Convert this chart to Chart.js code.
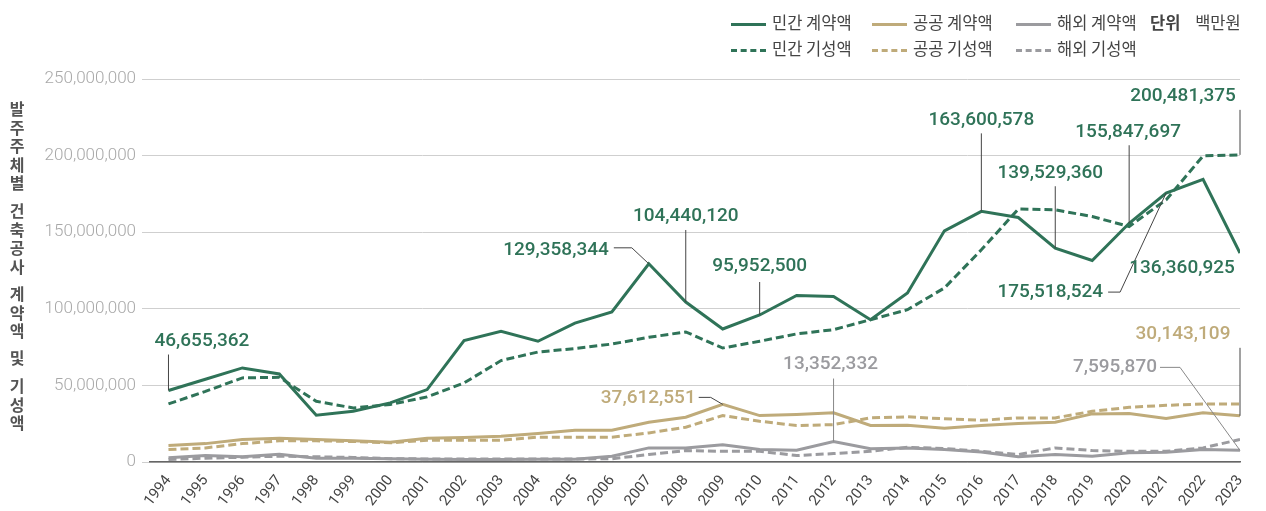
<!DOCTYPE html>
<html>
<head>
<meta charset="utf-8">
<script src="https://cdn.jsdelivr.net/npm/chart.js@4"></script>
<style>
  body { margin: 0; background: #fff; }
  #wrap { position: relative; width: 1266px; height: 511px; }
  #ytitle { position: absolute; left: 9px; top: 101px; }
  #ytitle div {
    writing-mode: vertical-rl; text-orientation: upright;
    font: bold 16px "Noto Sans CJK KR"; color: #555; letter-spacing: 2.5px;
    line-height: 16px; margin-bottom: 9px;
  }
  .lg { position: absolute; font: 16.5px "Noto Sans CJK KR"; color: #444; white-space: nowrap; line-height: 20px; }
  .sw { display: inline-block; width: 35px; height: 0; border-top: 3px solid; vertical-align: middle; margin-right: 6px; }
  .sw.d { border-top-style: dashed; }
</style>
</head>
<body>
<div id="wrap">
  <canvas id="grafico" width="1266" height="511"></canvas>
  <div id="ytitle"><div>발주주체별</div><div>건축공사</div><div>계약액</div><div>및</div><div>기성액</div></div>
  <div id="legend"></div>
</div>
<script>
const anios = [1994,1995,1996,1997,1998,1999,2000,2001,2002,2003,2004,2005,2006,2007,2008,2009,2010,2011,2012,2013,2014,2015,2016,2017,2018,2019,2020,2021,2022,2023];

// 단위: 백만원
const minganGyeyak = [46655362,54000000,61400000,57500000,30500000,33100000,38600000,47300000,79200000,85300000,78800000,90700000,97900000,129358344,104440120,86800000,95952500,108700000,108100000,92900000,110300000,150900000,163600578,159600000,139529360,131500000,155847697,175518524,184500000,136360925];
const minganGiseong = [37900000,46100000,54900000,55300000,39600000,35300000,37500000,42500000,51600000,66200000,71800000,74000000,77000000,81400000,84900000,74400000,78800000,83600000,86400000,92900000,99400000,113600000,138500000,165100000,164600000,160200000,153700000,171100000,199800000,200481375];
const gonggongGyeyak = [10800000,12000000,14700000,15500000,14700000,13800000,12900000,15500000,16000000,16800000,18600000,20700000,20700000,26000000,29200000,37612551,30300000,31000000,32100000,23800000,24000000,22000000,23800000,25100000,26000000,31400000,31600000,28400000,32100000,30143109];
const gonggongGiseong = [8100000,9200000,12000000,13800000,13800000,13400000,12500000,14200000,14200000,14200000,16200000,16200000,16200000,19000000,22700000,30300000,26600000,23800000,24400000,28800000,29500000,28200000,27200000,28800000,28800000,33100000,35700000,37000000,37900000,37900000];
const haeoeGyeyak = [2700000,4200000,3400000,5100000,2500000,2500000,2100000,1800000,1700000,1700000,1800000,1800000,3800000,9200000,9200000,11200000,8100000,7700000,13352332,8600000,9200000,8100000,6600000,3400000,4900000,3800000,6000000,6400000,8100000,7595870];
const haeoeGiseong = [1600000,2500000,3100000,3800000,3400000,3000000,2200000,2000000,2000000,2000000,2000000,2000000,2100000,4900000,7500000,7000000,7000000,4200000,5500000,7000000,9600000,8800000,7000000,4900000,9200000,7500000,7000000,7000000,9200000,14700000];

const yTicks = [0,50000000,100000000,150000000,200000000,250000000];

const VERDE = '#2f7358', ORO = '#bfab7a', GRIS = '#9b9b9f';

const series = [
  { label: '민간 계약액', data: minganGyeyak, color: VERDE, dash: [] },
  { label: '민간 기성액', data: minganGiseong, color: VERDE, dash: [8,4] },
  { label: '공공 계약액', data: gonggongGyeyak, color: ORO, dash: [] },
  { label: '공공 기성액', data: gonggongGiseong, color: ORO, dash: [8,4] },
  { label: '해외 계약액', data: haeoeGyeyak, color: GRIS, dash: [] },
  { label: '해외 기성액', data: haeoeGiseong, color: GRIS, dash: [8,4] }
];

// etiquetas: serie, indice del año, desplazamiento del texto y linea guia (relativos al punto)
const etiquetas = [
  { ds: 0, i: 0,  tx: -14, ty: -49, align: 'left',   guia: [[0,-36],[0,0]] },
  { ds: 0, i: 13, tx: -40, ty: -14, align: 'right',  guia: [[-35,-16],[-17,-16],[0,0]] },
  { ds: 0, i: 14, tx: 0,   ty: -86, align: 'center', guia: [[0,-72],[0,0]] },
  { ds: 0, i: 16, tx: 0,   ty: -49, align: 'center', guia: [[0,-33],[0,0]] },
  { ds: 0, i: 22, tx: 0,   ty: -91, align: 'center', guia: [[0,-78],[0,0]] },
  { ds: 0, i: 24, tx: -5,  ty: -75, align: 'center', guia: [[0,-62],[0,0]] },
  { ds: 0, i: 26, tx: -1,  ty: -91, align: 'center', guia: [[0,-78],[0,0]] },
  { ds: 1, i: 29, tx: -57, ty: -59, align: 'center', guia: [[0,-45],[0,0]] },
  { ds: 0, i: 27, tx: -63, ty: 99,  align: 'right',  guia: [[-58,99],[-46,99],[0,0]] },
  { ds: 0, i: 29, tx: -58, ty: 15,  align: 'center', guia: null },
  { ds: 2, i: 15, tx: -27, ty: -6,  align: 'right',  guia: [[-24,-7],[-12,-7],[0,0]] },
  { ds: 4, i: 18, tx: -3,  ty: -77, align: 'center', guia: [[0,-63],[0,0]] },
  { ds: 2, i: 29, tx: -57, ty: -82, align: 'center', guia: [[0,-68],[0,0]] },
  { ds: 4, i: 29, tx: -83, ty: -83, align: 'right',  guia: [[-80,-83],[-60,-83],[0,0]] }
];

const pluginEtiquetas = {
  id: 'etiquetas',
  afterDatasetsDraw(chart) {
    const ctx = chart.ctx;
    const xs = chart.scales.x, ys = chart.scales.y;
    ctx.save();
    etiquetas.forEach(e => {
      const s = series[e.ds];
      const px = xs.getPixelForValue(anios[e.i]);
      const py = ys.getPixelForValue(s.data[e.i]);
      if (e.guia) {
        ctx.beginPath();
        ctx.strokeStyle = e.ds >= 4 ? '#888' : '#444';
        ctx.lineWidth = 1;
        e.guia.forEach((p, k) => {
          if (k == 0) ctx.moveTo(px + p[0], py + p[1]);
          else ctx.lineTo(px + p[0], py + p[1]);
        });
        ctx.stroke();
      }
      ctx.font = '500 19px Roboto';
      ctx.fillStyle = s.color;
      ctx.textAlign = e.align;
      ctx.textBaseline = 'middle';
      ctx.fillText(s.data[e.i].toLocaleString('en-US'), px + e.tx, py + e.ty);
    });
    ctx.restore();
  }
};

// leyenda
const legend = document.getElementById('legend');
const cols = [731, 872, 1016];
series.forEach((s, k) => {
  const d = document.createElement('div');
  d.className = 'lg';
  d.style.left = cols[Math.floor(k / 2)] + 'px';
  d.style.top = (k % 2 == 0 ? 12 : 38) + 'px';
  d.innerHTML = '<span class="sw' + (s.dash.length ? ' d' : '') + '" style="border-color:' + s.color + '"></span>' + s.label;
  legend.appendChild(d);
});
const unidad = document.createElement('div');
unidad.className = 'lg';
unidad.style.left = '1150px';
unidad.style.top = '12px';
unidad.innerHTML = '<b>단위</b>&nbsp;&nbsp;&nbsp;&nbsp;백만원';
legend.appendChild(unidad);

const ctx = document.getElementById('grafico').getContext('2d');
const grafico = new Chart(ctx, {
  type: 'line',
  data: {
    datasets: series.map(s => ({
      label: s.label,
      data: s.data.map((v, k) => ({ x: anios[k], y: v })),
      borderColor: s.color,
      borderDash: s.dash,
      borderWidth: 3,
      pointRadius: 0,
      tension: 0,
      fill: false
    }))
  },
  options: {
    responsive: false,
    animation: false,
    layout: { padding: { top: 79, right: 26, left: 0, bottom: 0 } },
    plugins: { legend: { display: false }, tooltip: { enabled: false } },
    scales: {
      x: {
        type: 'linear',
        min: 1993.5,
        max: 2023,
        afterBuildTicks: sc => { sc.ticks = anios.map(v => ({ value: v })); },
        afterFit: sc => { sc.height = 49; },
        grid: { display: false },
        border: { color: '#666', width: 1.5 },
        ticks: {
          autoSkip: false,
          minRotation: 52,
          maxRotation: 52,
          padding: 2,
          color: '#444',
          font: { family: 'Roboto', size: 15 },
          callback: v => String(v)
        }
      },
      y: {
        min: 0,
        max: 250000000,
        afterBuildTicks: sc => { sc.ticks = yTicks.map(v => ({ value: v })); },
        afterFit: sc => { sc.width = 150; },
        border: { display: false },
        grid: { color: '#cfcfcf', lineWidth: 1, tickLength: 8 },
        ticks: {
          padding: 6,
          color: '#a8a8a8',
          font: { family: 'Roboto', size: 17, weight: '300' },
          callback: v => v.toLocaleString('en-US')
        }
      }
    }
  },
  plugins: [pluginEtiquetas]
});
</script>
</body>
</html>
